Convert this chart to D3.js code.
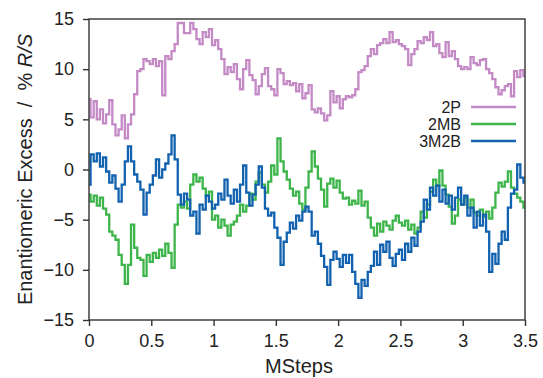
<!DOCTYPE html>
<html>
<head>
<meta charset="utf-8">
<script src="https://cdn.jsdelivr.net/npm/d3@7"></script>
<style>
  html, body { margin: 0; padding: 0; background: #fff; }
  svg { display: block; font-family: "Liberation Sans", Arial, Helvetica, sans-serif; }
</style>
</head>
<body>
<svg id="chart" width="543" height="378"></svg>
<script>
// Enantiomeric excess traces, sampled every 0.025 MSteps from 0 to 3.5
const sampleInterval = 0.025;
const seriesNames = ["2P", "2MB", "3M2B"];
const seriesColors = ["#c48ac6", "#3db54a", "#1262b0"];

const ee2P = [
  7, 5.2, 6.8, 5, 6, 4.6, 5.5, 6.9, 4.5, 3.4,
  4, 5.4, 3.1, 4.5, 5.5, 7.5, 9.8, 10, 11, 10.8,
  10.5, 11, 10.3, 10.8, 7.4, 11.3, 11, 11.8, 12.5, 14.6,
  14.6, 13.6, 13.6, 14.6, 14, 13, 12.5, 13.7, 13.2, 14,
  12.4, 12.9, 12, 11, 9.5, 10.2, 9.7, 10.5, 9, 8,
  10, 10.9, 9.4, 8.9, 7.5, 8.3, 9.5, 10.1, 8.3, 8,
  7.4, 10, 9.6, 8.5, 8.8, 8.4, 8.6, 7.8, 8.5, 7.1,
  7.6, 8.4, 6, 5.7, 6.1, 5.6, 4.9, 5.4, 7.8, 6.7,
  7.3, 6.1, 7, 7.3, 7.2, 7.4, 8, 9.7, 9.9, 10.3,
  11.3, 12, 11.5, 12.4, 12.6, 13, 12.6, 13.7, 12.7, 12.9,
  12.5, 12.3, 12, 10.4, 11.5, 12, 12.8, 12.6, 13.2, 12.9,
  13.7, 12.3, 12.5, 11.6, 11.2, 12.7, 11.3, 11.8, 11, 10.3,
  10, 10.2, 10, 11.2, 10.6, 10.4, 10.9, 11, 10, 9.6,
  9, 8.2, 7.5, 7.9, 8.3, 8.5, 7.3, 9.8, 9.2, 9.9,
  9.3];
const ee2MB = [
  -2.5, -3.2, -2.6, -3.6, -2.8, -3.9, -4.5, -6.2, -6.6, -7,
  -8.5, -9.5, -11.4, -9.5, -5.5, -7.8, -8.8, -9, -10.6, -8.5,
  -9.2, -8.3, -8.8, -8, -8.6, -7.4, -8.3, -9.8, -5.5, -3.5,
  -3.8, -3.2, -3.9, -1.5, -0.5, -1.2, -0.8, -1.9, -2.6, -2.2,
  -5, -4.6, -5.8, -5, -5.6, -6.6, -5.5, -5.2, -4.6, -3.5,
  -4.2, -3.6, -2.4, -3, -1.2, -0.3, -1.5, -2.3, -1.2, 0.4,
  -0.5, 3.1, 0.8, -0.2, -1, -1.9, -2.6, -2.2, -3.4, -4,
  -1.8, -0.2, 1.8, 0.3, -0.9, -2, -3.7, -1.4, -0.9, -1.8,
  -1.1, -2.3, -2.9, -2.8, -3.5, -3.1, -3.4, -2.1, -3.6, -3.2,
  -4.8, -5.8, -6.6, -5.4, -6.2, -5.2, -5.6, -6, -5.1, -4.6,
  -5.3, -5.6, -5.1, -6, -5.5, -6.4, -5.8, -4.2, -4.8, -3.5,
  -2.2, -1, -1.6, -0.1, -1.6, -2.5, -3.7, -5.4, -4.6, -3,
  -3.5, -2.8, -3.8, -3, -4.3, -4.6, -4, -4.7, -4.2, -4.9,
  -3.8, -2.3, -1.3, -1.7, -1.2, -0.2, -1.8, -2.4, -2.8, -3.2,
  -3.8];
const ee3M2B = [
  -1.5, 1.5, 0.8, 1.6, 0.3, 1.2, -0.2, -1.3, -0.6, -1.9,
  -3.2, -1.5, 0.8, 2.3, 0.8, -0.5, -1.2, -2, -4.5, -2.3,
  -1.5, -0.6, 1, -0.8, 0, 0.6, 1.5, 3.4, 1, -2.5,
  -3.5, -2.4, -3, -4.6, -4.2, -6.4, -3.5, -4, -2.6, -3.2,
  -3.9, -3.5, -2.4, -3, -1, -2.6, -3.4, -2, -3.2, -1.5,
  0.4, -2.3, -3.6, -2.5, -1.5, 0.3, -1.8, -3.9, -4.6, -4.3,
  -5.8, -6.8, -9.5, -7.2, -6.3, -5.3, -5.9, -4.6, -5.1, -4.2,
  -3.7, -4.2, -6.6, -6.2, -7.4, -8.6, -9.7, -11.5, -9, -8.2,
  -8.9, -9.7, -8.5, -9.3, -8.5, -10.2, -11.4, -12.8, -11, -11.6,
  -10.2, -9.6, -8.2, -9.5, -7.5, -8.2, -7.2, -8.8, -9.6, -8.4,
  -8, -9, -7.4, -8.2, -6.8, -7.6, -6.2, -5.2, -3, -4,
  -1.8, -2.6, -1.6, -3.2, -2, -3.4, -2.6, -4, -2.8, -1.8,
  -3.5, -2.6, -4.6, -3.8, -5.8, -4.2, -5.6, -4.5, -6.2, -10.2,
  -8.4, -9.4, -7.4, -6.2, -7, -3.8, -2.4, -2, 0.5, -0.8,
  -1.3];

const xTicks = [0, 0.5, 1, 1.5, 2, 2.5, 3, 3.5];
const yTicks = [-15, -10, -5, 0, 5, 10, 15];

const width = 543, height = 378;
const margin = { top: 19, right: 18, bottom: 58, left: 89 };

const svg = d3.select("#chart");
const x = d3.scaleLinear().domain([0, 3.5]).range([margin.left, width - margin.right]);
const y = d3.scaleLinear().domain([-15, 15]).range([height - margin.bottom, margin.top]);

const allSeries = [ee2P, ee2MB, ee3M2B].map((vals, i) => ({
  name: seriesNames[i],
  color: seriesColors[i],
  points: vals.map((v, j) => [j * sampleInterval, v])
}));

const clipId = "plot-clip";
svg.append("clipPath").attr("id", clipId)
  .append("rect")
  .attr("x", margin.left).attr("y", margin.top)
  .attr("width", width - margin.left - margin.right)
  .attr("height", height - margin.top - margin.bottom);

const line = d3.line()
  .x(d => x(d[0]))
  .y(d => y(d[1]))
  .curve(d3.curveStep);

svg.append("g").attr("clip-path", `url(#${clipId})`)
  .selectAll("path")
  .data(allSeries)
  .join("path")
  .attr("fill", "none")
  .attr("stroke", d => d.color)
  .attr("stroke-width", 2.3)
  .attr("d", d => line(d.points));

// Frame
svg.append("rect")
  .attr("x", margin.left).attr("y", margin.top)
  .attr("width", width - margin.left - margin.right)
  .attr("height", height - margin.top - margin.bottom)
  .attr("fill", "none").attr("stroke", "#333").attr("stroke-width", 1.4);

const xAxis = svg.append("g")
  .attr("transform", `translate(0,${height - margin.bottom})`)
  .call(d3.axisBottom(x).tickValues(xTicks).tickSize(6).tickPadding(8).tickFormat(d3.format("")));
const yAxis = svg.append("g")
  .attr("transform", `translate(${margin.left},0)`)
  .call(d3.axisLeft(y).tickValues(yTicks).tickSize(6).tickPadding(9).tickFormat(d3.format("")));

[xAxis, yAxis].forEach(g => {
  g.select(".domain").remove();
  g.selectAll(".tick line").attr("stroke", "#333").attr("stroke-width", 1.4);
  g.selectAll(".tick text").attr("fill", "#222").style("font-size", "18px")
    .style("font-family", "'Liberation Sans', Arial, sans-serif");
});

svg.append("text")
  .attr("x", (margin.left + width - margin.right) / 2 - 8)
  .attr("y", 373)
  .attr("text-anchor", "middle")
  .attr("fill", "#222")
  .style("font-size", "20px")
  .text("MSteps");

const yTitle = svg.append("text")
  .attr("transform", `translate(32,${(margin.top + height - margin.bottom) / 2}) rotate(-90)`)
  .attr("text-anchor", "middle")
  .attr("fill", "#222")
  .style("font-size", "20px")
  .attr("xml:space", "preserve");
yTitle.append("tspan").text("Enantiomeric Excess  /  % ");
yTitle.append("tspan").style("font-style", "italic").text("R/S");

// Legend
const legend = svg.append("g");
allSeries.forEach((s, i) => {
  const ly = 107 + i * 17;
  legend.append("text")
    .attr("x", 461).attr("y", ly + 6)
    .attr("text-anchor", "end")
    .attr("fill", "#222")
    .style("font-size", "16px")
    .text(s.name);
  legend.append("line")
    .attr("x1", 471).attr("x2", 516)
    .attr("y1", ly).attr("y2", ly)
    .attr("stroke", s.color).attr("stroke-width", 2.3);
});
</script>
</body>
</html>
